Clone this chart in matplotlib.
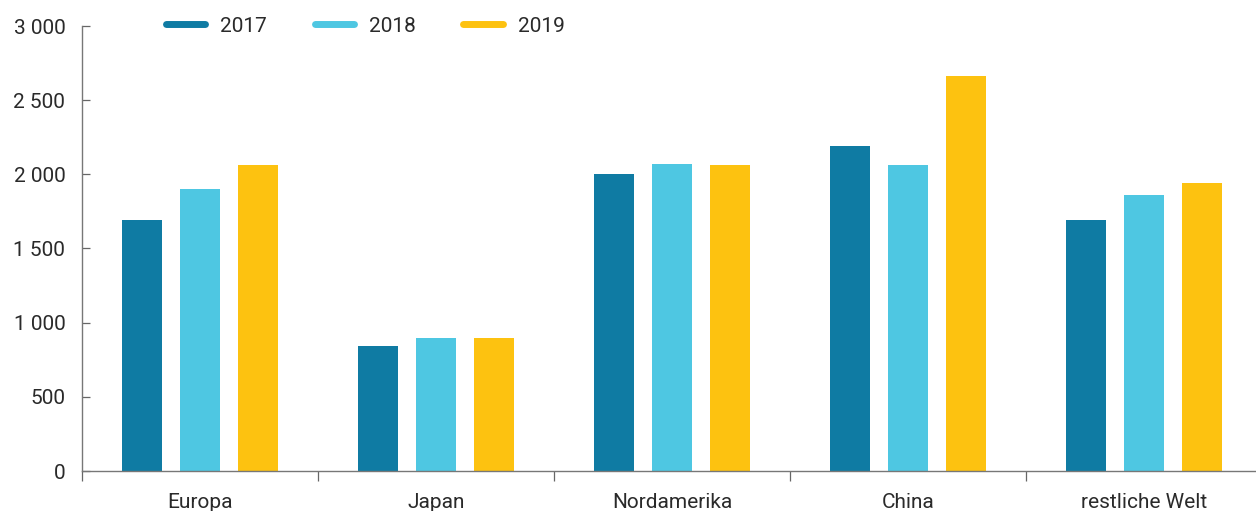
import numpy as np
import matplotlib
matplotlib.use("Agg")
import matplotlib.pyplot as plt
from matplotlib.lines import Line2D
from matplotlib.ticker import FuncFormatter

plt.rcParams['font.family'] = ['Roboto', 'DejaVu Sans']

# data
regions = ["Europa", "Japan", "Nordamerika", "China", "restliche Welt"]
years = ["2017", "2018", "2019"]
v2017 = [1690, 840, 2000, 2190, 1690]
v2018 = [1900, 900, 2070, 2060, 1860]
v2019 = [2060, 900, 2060, 2660, 1940]
colors = ["#0f7ba3", "#4ec7e2", "#fdc210"]

fig = plt.figure(figsize=(12.56, 5.11), dpi=100)
ax = fig.add_axes([82 / 1256, 1 - 471 / 511, 1 - 82 / 1256, (471 - 26) / 511])

x = np.arange(len(regions))
width = 0.17
offset = 0.246
for i, (vals, c) in enumerate(zip([v2017, v2018, v2019], colors)):
    ax.bar(x + (i - 1) * offset, vals, width=width, color=c, zorder=2)

ax.set_xlim(-0.5, 4.475)
ax.set_ylim(0, 3000)
ax.set_yticks(np.arange(0, 3001, 500))
ax.yaxis.set_major_formatter(FuncFormatter(lambda v, p: f"{int(v):,}".replace(",", " ")))

# separators as major ticks, labels on minor ticks
ax.set_xticks(np.arange(-0.5, 4.0, 1.0))
ax.set_xticklabels([])
ax.set_xticks(x, minor=True)
ax.set_xticklabels(regions, minor=True)
ax.tick_params(axis='x', which='major', direction='out', length=7, width=0.9, color="#666666")
ax.tick_params(axis='x', which='minor', length=0, pad=16, labelsize=15, labelcolor="#2a2a2a")
ax.tick_params(axis='y', direction='in', length=6, width=0.9, color="#666666", pad=12,
               labelsize=15, labelcolor="#2a2a2a")

for s in ["top", "right"]:
    ax.spines[s].set_visible(False)
for s in ["left", "bottom"]:
    ax.spines[s].set_color("#777777")
    ax.spines[s].set_linewidth(1.0)

handles = [Line2D([0], [0], color=c, lw=5, solid_capstyle='round') for c in colors]
fig.legend(handles, years, loc="center left", bbox_to_anchor=(147 / 1256, 1 - 26 / 511),
           ncol=3, frameon=False, fontsize=15, handlelength=1.9, handletextpad=0.7,
           columnspacing=2.3, labelcolor="#2a2a2a")

fig.savefig("out.png", dpi=100)
